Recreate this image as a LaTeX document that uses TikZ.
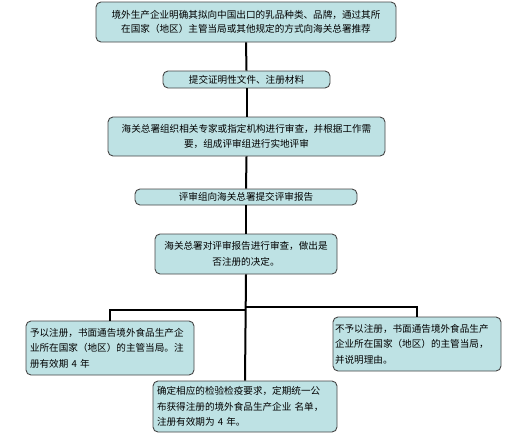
\documentclass[tikz,border=0pt]{standalone}
\usepackage{fontspec}
\newfontfamily\cjk{Noto Sans CJK SC}
\definecolor{boxfill}{RGB}{190,226,228}
\definecolor{boxline}{RGB}{70,70,70}
\begin{document}
\begin{tikzpicture}[x=1pt,y=-1pt,
  flowbox/.style={draw=boxline, line width=0.9pt, fill=boxfill, rounded corners=5pt,
    inner sep=0pt, font=\cjk\fontsize{9.6}{15.5}\selectfont, align=center},
  link/.style={line width=2pt, draw=black}]
\useasboundingbox (0,0) rectangle (505,434);

\node[flowbox, minimum width=300pt, minimum height=40pt, font=\cjk\fontsize{9.6}{14}\selectfont] (b1) at (246,22)
  {境外生产企业明确其拟向中国出口的乳品种类、品牌，通过其所\\在国家（地区）主管当局或其他规定的方式向海关总署推荐};
\node[flowbox, minimum width=167pt, minimum height=17pt] (b2) at (246.5,79.5)
  {提交证明性文件、注册材料};
\node[flowbox, minimum width=277pt, minimum height=39pt] (b3) at (246.5,136.5)
  {海关总署组织相关专家或指定机构进行审查，并根据工作需\\要，组成评审组进行实地评审};
\node[flowbox, minimum width=222pt, minimum height=16pt] (b4) at (246,197)
  {评审组向海关总署提交评审报告};
\node[flowbox, minimum width=182pt, minimum height=40pt] (b5) at (246,254)
  {海关总署对评审报告进行审查，做出是\\否注册的决定。};
\node[flowbox, minimum width=168pt, minimum height=54pt, text width=160pt, align=left] (b6) at (110,348)
  {予以注册，书面通告境外食品生产企\\业所在国家（地区）的主管当局。注\\册有效期 4 年};
\node[flowbox, minimum width=168pt, minimum height=54pt, text width=164pt, align=left] (b7) at (417,344)
  {不予以注册，书面通告境外食品生产\\企业所在国家（地区）的主管当局，\\并说明理由。};
\node[flowbox, minimum width=184pt, minimum height=51pt, text width=176pt, align=left] (b8) at (245,406.5)
  {确定相应的检验检疫要求，定期统一公\\布获得注册的境外食品生产企业 名单，\\注册有效期为 4 年。};

\coordinate (jr) at (246,307);
\coordinate (jl) at (246,310);

\draw[link] (b1.south) -- (b2.north);
\draw[link] (b2.south) -- (b3.north);
\draw[link] (b3.south) -- (b4.north);
\draw[link] (b4.south) -- (b5.north);
\draw[link] (b5.south) -- (b8.north);
\draw[link] (b6.north) |- (jl);
\draw[link] (b7.north) |- (jr);
\end{tikzpicture}
\end{document}
